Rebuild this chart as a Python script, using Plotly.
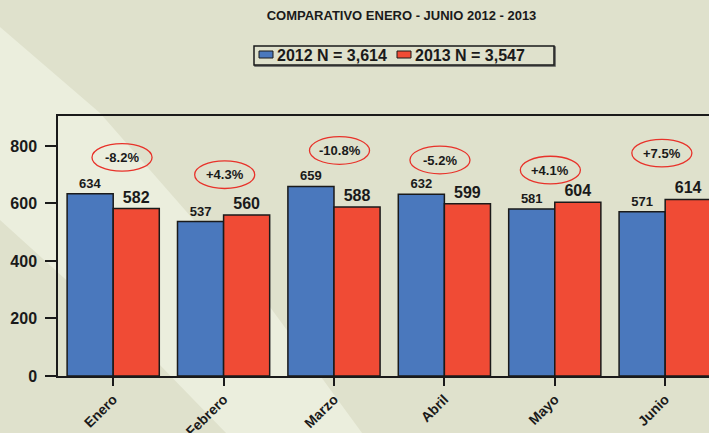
import plotly.graph_objects as go

# ---------------- data ----------------
months = ["Enero", "Febrero", "Marzo", "Abril", "Mayo", "Junio"]
values_2012 = [634, 537, 659, 632, 581, 571]
values_2013 = [582, 560, 588, 599, 604, 614]
pct_labels = ["-8.2%", "+4.3%", "-10.8%", "-5.2%", "+4.1%", "+7.5%"]
series_names = ["2012 N = 3,614", "2013 N = 3,547"]
y_ticks = [0, 200, 400, 600, 800]
title_text = "COMPARATIVO ENERO - JUNIO 2012 - 2013"

# ---------------- style / layout ----------------
W, H = 709, 433
ML, MR, MT, MB = 58, 0, 116, 57
BG = "#dfe1cc"
BAND = "#ebeedd"
BLUE = "#4a78bd"
RED = "#f04b35"
INK = "#1a1a1a"
FONT = "Liberation Sans, Arial, sans-serif"
Y_MAX = 904

# badge placement nudges (x in category units, y in value units)
badge_dx = [0.08, 0.01, 0.05, -0.04, -0.04, -0.03]
badge_y = [760, 700, 784, 751, 716, 775]
badge_w, badge_h = 0.272, 48

pw = W - ML - MR
ph = H - MT - MB


def px_x(px):
    return (px - ML) / pw


def px_y(py):
    return (H - MB - py) / ph


fig = go.Figure()
fig.add_trace(go.Bar(
    x=months, y=values_2012, name=series_names[0],
    marker=dict(color=BLUE, line=dict(color=INK, width=1.5)),
    text=[str(v) for v in values_2012], textposition="outside",
    outsidetextfont=dict(family=FONT, size=13, color=INK, weight="bold"),
    cliponaxis=False, constraintext="none", showlegend=False,
))
fig.add_trace(go.Bar(
    x=months, y=values_2013, name=series_names[1],
    marker=dict(color=RED, line=dict(color=INK, width=1.5)),
    text=[str(v) for v in values_2013], textposition="outside",
    outsidetextfont=dict(family=FONT, size=16, color=INK, weight="bold"),
    cliponaxis=False, constraintext="none", showlegend=False,
))

shapes = []
# light diagonal band in the background
band_pts = [(0, 27), (100, 113), (270, 307), (362, 433), (226, 433), (158, 363), (0, 220)]
path = "M " + " L ".join(f"{px_x(a):.4f},{px_y(b):.4f}" for a, b in band_pts) + " Z"
shapes.append(dict(type="path", xref="paper", yref="paper", path=path,
                   fillcolor=BAND, line=dict(width=0), layer="below"))

annotations = []
for i, lab in enumerate(pct_labels):
    cx = i + badge_dx[i]
    cy = badge_y[i]
    shapes.append(dict(type="circle", xref="x", yref="y",
                       x0=cx - badge_w, x1=cx + badge_w,
                       y0=cy - badge_h, y1=cy + badge_h,
                       line=dict(color="#e8322a", width=1.3)))
    annotations.append(dict(x=cx, y=cy, xref="x", yref="y", text=lab,
                            showarrow=False,
                            font=dict(family=FONT, size=13, color=INK, weight="bold")))

# legend box (drawn manually to match the compact original)
shapes.append(dict(type="rect", xref="paper", yref="paper",
                   x0=px_x(255), x1=px_x(555), y0=px_y(47), y1=px_y(66),
                   line=dict(color="#555", width=1.5), fillcolor="rgba(0,0,0,0)"))
shapes.append(dict(type="rect", xref="paper", yref="paper",
                   x0=px_x(254), x1=px_x(554), y0=px_y(46), y1=px_y(65),
                   line=dict(color=INK, width=1.5), fillcolor=BG))
for sx, col, name in [(259, BLUE, series_names[0]), (397, RED, series_names[1])]:
    shapes.append(dict(type="rect", xref="paper", yref="paper",
                       x0=px_x(sx), x1=px_x(sx + 14), y0=px_y(51), y1=px_y(58),
                       line=dict(color=INK, width=1), fillcolor=col))
    annotations.append(dict(x=px_x(sx + 16), y=px_y(55.5), xref="paper", yref="paper",
                            xanchor="left", yanchor="middle", text=name, showarrow=False,
                            font=dict(family=FONT, size=16, color=INK, weight="bold")))

fig.update_layout(
    width=W, height=H,
    margin=dict(l=ML, r=MR, t=MT, b=MB, pad=0, autoexpand=False),
    paper_bgcolor=BG, plot_bgcolor="rgba(0,0,0,0)",
    barmode="group", bargap=0.165, bargroupgap=0,
    title=dict(text=title_text, x=401.5 / W, xanchor="center",
               y=1 - 15 / H, yanchor="middle",
               font=dict(family=FONT, size=13, color=INK, weight="bold")),
    shapes=shapes, annotations=annotations,
    showlegend=False,
)
fig.update_xaxes(
    range=[-0.5, 5.397], showline=True, linecolor=INK, linewidth=1.5, mirror=True,
    ticks="outside", ticklen=8, tickwidth=1.5, tickcolor=INK, tickangle=-45,
    tickfont=dict(family=FONT, size=14, color=INK, weight="bold"),
    showgrid=False, zeroline=False, automargin=False,
)
fig.update_yaxes(
    range=[0, Y_MAX], tickvals=y_ticks, showline=True, linecolor=INK, linewidth=1.5,
    ticks="outside", ticklen=11, tickwidth=1.5, tickcolor=INK, ticklabelstandoff=5,
    tickfont=dict(family=FONT, size=16, color=INK, weight="bold"),
    showgrid=False, zeroline=False, automargin=False,
)

fig.write_html(
    "out.html",
    config={"displayModeBar": False},
    post_script="document.body.style.margin='0';document.body.style.overflow='hidden';",
)
